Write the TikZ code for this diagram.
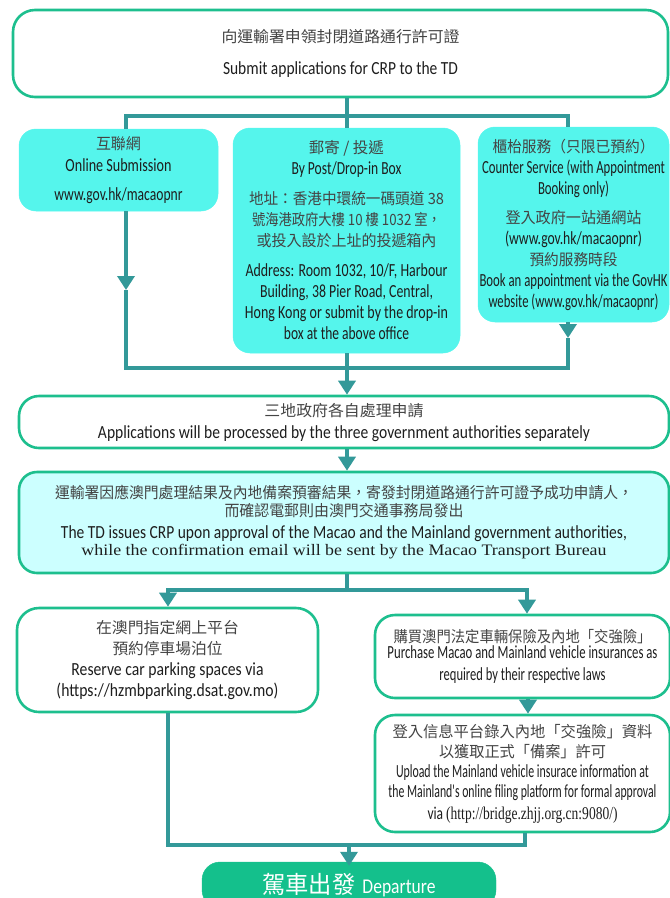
\documentclass[tikz,border=0pt]{standalone}
\usepackage{fontspec}
\usepackage{graphicx}
\usetikzlibrary{arrows.meta}
\newfontfamily\zhf{Noto Sans CJK TC}
\newfontfamily\enf{Carlito}
\newfontfamily\srf{Liberation Serif}
\definecolor{gborder}{HTML}{1DBF8E}
\definecolor{tealc}{HTML}{339999}
\definecolor{cyanfill}{HTML}{55F5EC}
\definecolor{tdfill}{HTML}{CCFFFF}
\definecolor{depfill}{HTML}{14C08C}
\definecolor{zhc}{HTML}{444444}
\definecolor{enc}{HTML}{1E1E1E}
\newcommand\setskip[1]{\fontsize{15}{#1}\selectfont\lineskiplimit=-100pt\relax}
\newcommand\lineZH[2]{\resizebox{#1pt}{\height}{\fontsize{15.5}{\baselineskip}\selectfont\zhf\color{zhc}#2}}
\newcommand\lineEN[2]{\resizebox{#1pt}{\height}{\fontsize{18.5}{\baselineskip}\selectfont\enf\color{enc}#2}}
\newcommand\lineSR[2]{\resizebox{#1pt}{\height}{\fontsize{16}{\baselineskip}\selectfont\srf\color{enc}#2}}
\tikzset{
  gbox/.style={rectangle, draw=gborder, line width=2.6pt, fill=white, rounded corners=20pt, align=center, inner sep=0pt},
  cbox/.style={rectangle, draw=cyanfill, line width=0.5pt, fill=cyanfill, rounded corners=17pt, align=center, inner sep=0pt},
  conn/.style={draw=tealc, line width=4.5pt},
  arrowed/.style={-{Triangle[width=17pt,length=14pt]}}
}
\begin{document}
\begin{tikzpicture}[x=1pt,y=-1pt]
\useasboundingbox (0,0) rectangle (670,898);

% boxes
\node[gbox, minimum width=655pt, minimum height=87pt, rounded corners=22pt, font=\setskip{32}] (top) at (340.5,53.5)
  {\lineZH{238}{向運輸署申領封閉道路通行許可證}\\ \lineEN{235}{Submit applications for CRP to the TD}};

\node[cbox, minimum width=199pt, minimum height=82pt, font=\setskip{22}] (b1) at (118.5,170)
  {\lineZH{45}{互聯網}\\ \lineEN{106}{Online Submission}\\[7pt] \lineEN{128}{www.gov.hk/macaopnr}};

\node[cbox, minimum width=227pt, minimum height=225pt, font=\setskip{21}] (b2) at (346.5,240.5)
  {\lineZH{75}{郵寄 / 投遞}\\
   \lineEN{110}{By Post/Drop-in Box}\\[9pt]
   \lineZH{195}{地址：香港中環統一碼頭道 38}\\
   \lineZH{189}{號海港政府大樓 10 樓 1032 室，}\\
   \lineZH{180}{或投入設於上址的投遞箱內}\\[9pt]
   \lineEN{202}{Address: Room 1032, 10/F, Harbour}\\
   \lineEN{173}{Building, 38 Pier Road, Central,}\\
   \lineEN{203}{Hong Kong or submit by the drop-in}\\
   \lineEN{125}{box at the above office}};

\node[cbox, minimum width=191pt, minimum height=195pt, font=\setskip{21}] (b3) at (573.5,224.5)
  {\lineZH{162}{櫃枱服務（只限已預約）}\\
   \lineEN{183}{Counter Service (with Appointment}\\
   \lineEN{71}{Booking only)}\\[8pt]
   \lineZH{136}{登入政府一站通網站}\\
   \lineEN{137}{(www.gov.hk/macaopnr)}\\
   \lineZH{88}{預約服務時段}\\
   \lineEN{188}{Book an appointment via the GovHK}\\
   \lineEN{170}{website (www.gov.hk/macaopnr)}};

\node[gbox, minimum width=650pt, minimum height=52pt, font=\setskip{22}] (b4) at (344,422)
  {\lineZH{159}{三地政府各自處理申請}\\
   \lineEN{492}{Applications will be processed by the three government authorities separately}};

\node[gbox, fill=tdfill, minimum width=650pt, minimum height=101pt, rounded corners=18pt, font=\setskip{18}] (b5) at (344,522.5)
  {\lineZH{578}{運輸署因應澳門處理結果及內地備案預審結果，寄發封閉道路通行許可證予成功申請人，}\\
   \lineZH{239}{而確認電郵則由澳門交通事務局發出}\\[4pt]
   \lineEN{566}{The TD issues CRP upon approval of the Macao and the Mainland government authorities,}\\[-1pt]
   \lineSR{525}{while the confirmation email will be sent by the Macao Transport Bureau}};

\node[gbox, minimum width=301pt, minimum height=104pt, rounded corners=22pt, font=\setskip{21}] (b6) at (167.5,660)
  {\lineZH{143}{在澳門指定網上平台}\\
   \lineZH{110}{預約停車場泊位}\\
   \lineEN{192}{Reserve car parking spaces via}\\
   \lineEN{222}{(https://hzmbparking.dsat.gov.mo)}};

\node[gbox, minimum width=295pt, minimum height=83pt, font=\setskip{16}] (b7) at (522.5,656.5)
  {\lineZH{258}{購買澳門法定車輛保險及內地「交強險」}\\
   \lineEN{270}{Purchase Macao and Mainland vehicle insurances as}\\[6pt]
   \lineEN{166}{required by their respective laws}};

\node[gbox, minimum width=295pt, minimum height=117pt, font=\setskip{20}] (b8) at (522.5,773.5)
  {\lineZH{260}{登入信息平台錄入內地「交強險」資料}\\
   \lineZH{167}{以獲取正式「備案」許可}\\
   \lineEN{253}{Upload the Mainland vehicle insurace information at}\\
   \lineEN{268}{the Mainland's online filing platform for formal approval}\\[2pt]
   \resizebox{190pt}{\height}{\fontsize{18}{\baselineskip}\selectfont\color{enc}\enf via \srf(http://bridge.zhjj.org.cn:9080/)}};

\node[rectangle, fill=depfill, draw=depfill, rounded corners=18pt, minimum width=294pt, minimum height=46pt, inner sep=0pt, text=white] (dep) at (349,885)
  {\resizebox{93pt}{\height}{\fontsize{24}{26}\selectfont\zhf 駕車出發}\hspace{7pt}\resizebox{73pt}{\height}{\fontsize{21}{24}\selectfont\enf Departure}};

% connectors
\coordinate (t1) at (347,116);
\coordinate (t1l) at (126,116);
\coordinate (t1r) at (568,116);
\draw[conn] (top.south -| t1) -- (t1);
\draw[conn] (b1.north -| t1l) -- (t1l) -- (t1r) -- (b3.north -| t1r);
\draw[conn] (t1) -- (b2.north -| t1);

\coordinate (a1) at (126,290);
\coordinate (a3) at (568,338);
\coordinate (c1) at (126,368);
\coordinate (c2) at (568,368);
\coordinate (m1) at (347,368);
\draw[conn,arrowed] (b1.south -| a1) -- (a1);
\draw[conn,arrowed] (b3.south -| a3) -- (a3);
\draw[conn] (a1) -- (c1) -- (c2) -- (a3);
\draw[conn,arrowed] (b2.south -| m1) -- (b4.north -| m1);
\draw[conn,arrowed] (b4.south -| m1) -- (b5.north -| m1);

\coordinate (m2) at (347,590);
\coordinate (l2) at (168,590);
\coordinate (r2) at (527,590);
\draw[conn] (b5.south -| m2) -- (m2);
\draw[conn,arrowed] (m2) -- (l2) -- (b6.north -| l2);
\draw[conn,arrowed] (m2) -- (r2) -- (b7.north -| r2);

\coordinate (r3) at (528,705);
\draw[conn,arrowed] (b7.south -| r3) -- (b8.north -| r3);

\coordinate (l3) at (168,845);
\coordinate (r3b) at (525,845);
\coordinate (m3) at (349,845);
\draw[conn] (b6.south -| l3) -- (l3) -- (r3b) -- (b8.south -| r3b);
\draw[conn,arrowed,shorten >=-4pt] (m3) -- (dep.north -| m3);
\end{tikzpicture}
\end{document}
